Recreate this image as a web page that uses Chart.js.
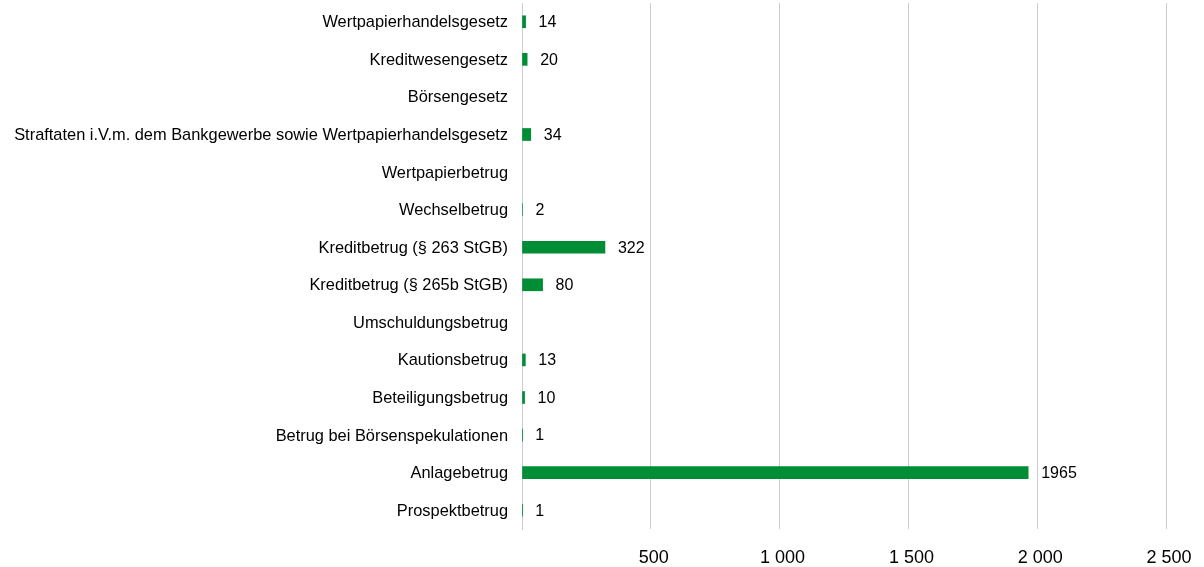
<!DOCTYPE html>
<html>
<head>
<meta charset="utf-8">
<script src="https://cdn.jsdelivr.net/npm/chart.js@4/dist/chart.umd.min.js"></script>
<style>
  html, body { margin: 0; padding: 0; background: #fff; }
  #wrap { width: 1204px; height: 567px; position: relative; }
</style>
</head>
<body>
<div id="wrap"><canvas id="delikteChart"></canvas></div>
<script>
// categories, top to bottom
var categories = [
    'Wertpapierhandelsgesetz',
    'Kreditwesengesetz',
    'Börsengesetz',
    'Straftaten i.V.m. dem Bankgewerbe sowie Wertpapierhandelsgesetz',
    'Wertpapierbetrug',
    'Wechselbetrug',
    'Kreditbetrug (§ 263 StGB)',
    'Kreditbetrug (§ 265b StGB)',
    'Umschuldungsbetrug',
    'Kautionsbetrug',
    'Beteiligungsbetrug',
    'Betrug bei Börsenspekulationen',
    'Anlagebetrug',
    'Prospektbetrug'
];
// cases per category (null = no value shown)
var faelle = [14, 20, null, 34, null, 2, 322, 80, null, 13, 10, 1, 1965, 1];
// x axis
var xTicks = [0, 500, 1000, 1500, 2000, 2500];

var FONT = 'Liberation Sans, Arial, sans-serif';

// value labels right of each bar
var valueLabels = {
    id: 'valueLabels',
    afterDatasetsDraw: function (chart) {
        var ctx = chart.ctx;
        var xs = chart.scales.x;
        var meta = chart.getDatasetMeta(0);
        ctx.save();
        ctx.font = '16px ' + FONT;
        ctx.fillStyle = '#000';
        ctx.textAlign = 'left';
        ctx.textBaseline = 'middle';
        meta.data.forEach(function (bar, i) {
            var v = faelle[i];
            if (v === null) return;
            ctx.fillText(String(v), xs.getPixelForValue(v) + 13, bar.y + 1);
        });
        ctx.restore();
    }
};

window.addEventListener('load', () => {
    var ctx = document.getElementById('delikteChart').getContext('2d');
    new Chart(ctx, {
        type: 'bar',
        data: {
            labels: categories,
            datasets: [{
                data: faelle,
                backgroundColor: '#008d36',
                barThickness: 12,
                borderWidth: 0
            }]
        },
        options: {
            indexAxis: 'y',
            responsive: true,
            maintainAspectRatio: false,
            animation: false,
            layout: { padding: { top: 3, right: 38, left: 0, bottom: 0 } },
            plugins: {
                legend: { display: false },
                tooltip: { enabled: false }
            },
            scales: {
                x: {
                    min: xTicks[0],
                    max: xTicks[xTicks.length - 1],
                    afterBuildTicks: function (s) {
                        s.ticks = xTicks.map(function (v) { return { value: v }; });
                    },
                    afterFit: function (s) { s.height = 38; s.paddingLeft = 0; s.paddingRight = 0; },
                    grid: { color: '#cccccc', drawTicks: false, lineWidth: 1 },
                    border: { display: false },
                    ticks: {
                        padding: 18,
                        labelOffset: 3,
                        color: '#000',
                        font: { family: FONT, size: 18 },
                        maxRotation: 0,
                        callback: function (v) {
                            if (v === 0) return '';
                            return String(v).replace(/\B(?=(\d{3})+(?!\d))/g, ' ');
                        }
                    }
                },
                y: {
                    afterFit: function (s) { s.width = 522; s.paddingTop = 0; s.paddingBottom = 0; },
                    grid: { display: false, drawTicks: false },
                    border: { display: true, color: '#cccccc', width: 1 },
                    ticks: {
                        padding: 14,
                        labelOffset: 1,
                        color: '#000',
                        autoSkip: false,
                        font: { family: FONT, size: 16.4 }
                    }
                }
            }
        },
        plugins: [valueLabels]
    });
});
</script>
</body>
</html>
